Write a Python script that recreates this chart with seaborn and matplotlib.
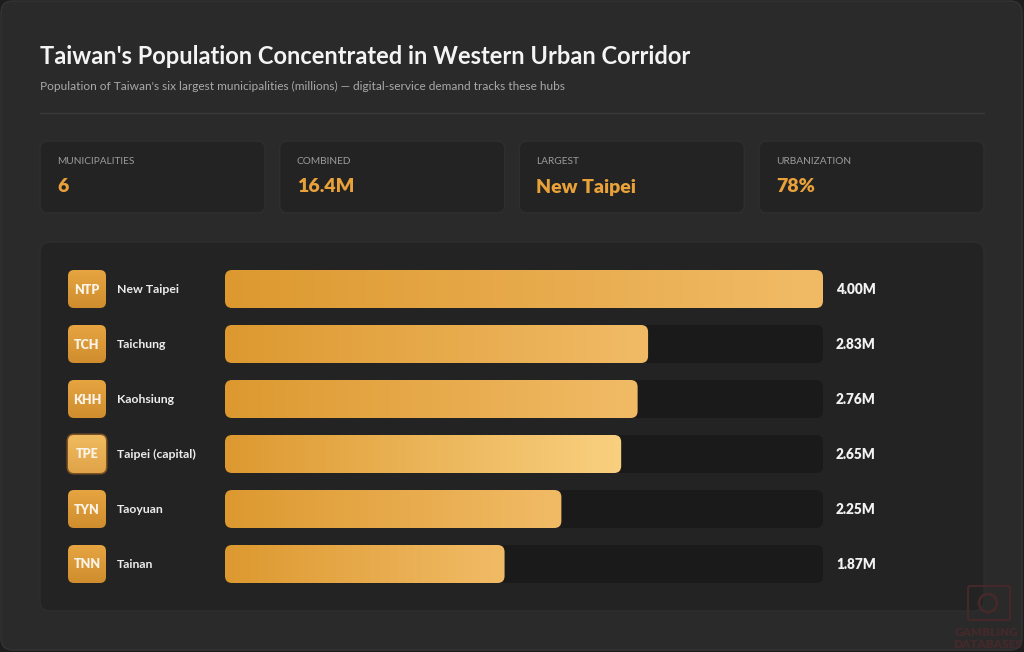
import matplotlib
matplotlib.use('Agg')
import numpy as np
import pandas as pd
import seaborn as sns
import matplotlib.pyplot as plt
from matplotlib.patches import FancyBboxPatch, Circle
from matplotlib.colors import LinearSegmentedColormap

# data
codes = ['NTP', 'TCH', 'KHH', 'TPE', 'TYN', 'TNN']
cities = ['New Taipei', 'Taichung', 'Kaohsiung', 'Taipei (capital)', 'Taoyuan', 'Tainan']
population = [4.00, 2.83, 2.76, 2.65, 2.25, 1.87]
kpi_labels = ['MUNICIPALITIES', 'COMBINED', 'LARGEST', 'URBANIZATION']
kpi_values = ['6', '16.4M', 'New Taipei', '78%']
highlight = 'TPE'
axis_max = 4.0

title = "Taiwan's Population Concentrated in Western Urban Corridor"
subtitle = ("Population of Taiwan's six largest municipalities (millions) \u2014 "
            "digital-service demand tracks these hubs")

sns.set_style('dark')
plt.rcParams['font.family'] = ['Lato', 'DejaVu Sans']

W, H = 1024, 652
fig = plt.figure(figsize=(W / 100, H / 100), dpi=100)
fig.patch.set_facecolor('#1d1d1d')

# background axes in pixel units (y down)
bg = fig.add_axes([0, 0, 1, 1], zorder=0)
bg.set_xlim(0, W)
bg.set_ylim(H, 0)
bg.axis('off')


def rbox(x, y, w, h, r, **kw):
    p = FancyBboxPatch((x, y), w, h, boxstyle=f'round,pad=0,rounding_size={r}', **kw)
    bg.add_patch(p)
    return p


def gradient(patch, x0, x1, y0, y1, c_from, c_to, vertical=False):
    cmap = LinearSegmentedColormap.from_list('g', [c_from, c_to])
    g = np.linspace(0, 1, 256)
    arr = g.reshape(-1, 1) if vertical else g.reshape(1, -1)
    im = bg.imshow(arr, cmap=cmap, extent=[x0, x1, y1, y0], aspect='auto',
                   interpolation='bicubic', zorder=patch.get_zorder() + 0.1)
    im.set_clip_path(patch)


rbox(1, 1, W - 3, H - 3, 12, fc='#2a2a2a', ec='#343434', lw=1, zorder=0)

bg.text(40, 56, title, fontsize=17, weight='bold', color='#f4f4f4', va='center')
bg.text(40, 86, subtitle, fontsize=8.6, color='#a9a9a9', va='center')
bg.plot([40, 984], [113, 113], color='#3a3a3a', lw=1, zorder=1)

# KPI cards
card_w, gap = 225, (944 - 4 * 225) / 3
for i, (lab, val) in enumerate(zip(kpi_labels, kpi_values)):
    x0 = 40 + i * (card_w + gap)
    rbox(x0, 141, card_w, 72, 8, fc='#232323', ec='#2f2f2f', lw=1, zorder=1)
    bg.text(x0 + 17, 162, lab, fontsize=7.3, color='#9c9c9c', va='center')
    bg.text(x0 + 17, 187, val, fontsize=14, weight='heavy', color='#e9a13a', va='center')

# chart panel
rbox(40, 242, 944, 369, 10, fc='#232323', ec='#2e2e2e', lw=1, zorder=1)

# bar axes
left, right, top, bottom = 225, 823, 261.5, 591.5
ax = fig.add_axes([left / W, (H - bottom) / H, (right - left) / W, (bottom - top) / H], zorder=1)
ax.patch.set_alpha(0)
df = pd.DataFrame({'code': codes, 'city': cities, 'population': population})
sns.barplot(data=df, x='population', y='city', orient='h', ax=ax,
            width=38 / 55, color='#e3a03a')
ax.set_xlim(0, axis_max)
ax.set_ylim(len(cities) - 0.5, -0.5)
ax.axis('off')

to_bg = ax.transData + bg.transData.inverted()
for p, code, city, val in zip(ax.patches, codes, cities, population):
    (x0, ya), (x1, yb) = to_bg.transform([[p.get_x(), p.get_y()],
                                          [p.get_x() + p.get_width(), p.get_y() + p.get_height()]])
    y0, y1 = min(ya, yb), max(ya, yb)
    h = y1 - y0
    cy = (y0 + y1) / 2
    tx0 = to_bg.transform([[0, 0]])[0][0]
    tx1 = to_bg.transform([[axis_max, 0]])[0][0]
    rbox(tx0, y0, tx1 - tx0, h, 7, fc='#1a1a1a', ec='none', zorder=2)
    bar = rbox(x0, y0, x1 - x0, h, 7, fc='none', ec='none', zorder=3)
    hi = code == highlight
    gradient(bar, x0, x1, y0, y1, '#dd9930', '#f9d080' if hi else '#f1bb66')
    p.set_visible(False)

    # badge
    badge = rbox(68, cy - 19, 38, 38, 6, fc='none',
                 ec='#7a5224' if hi else 'none', lw=2.2 if hi else 0, zorder=3)
    if hi:
        gradient(badge, 68, 106, cy - 19, cy + 19, '#f0bb60', '#e0a348', vertical=True)
    else:
        gradient(badge, 68, 106, cy - 19, cy + 19, '#e6a541', '#cf8d2e', vertical=True)
    bg.text(87, cy + 0.5, code, fontsize=9, weight='heavy', color='#fbf3e6',
            ha='center', va='center', zorder=5)
    bg.text(117, cy + 0.5, city, fontsize=8.8, weight='bold', color='#ececec',
            va='center', zorder=5)
    bg.text(tx1 + 13, cy + 0.5, f'{val:.2f}M', fontsize=9.8, weight='heavy', color='#f2f2f2',
            va='center', zorder=5)

bg.set_xlim(0, W)
bg.set_ylim(H, 0)

# watermark
wm = '#45292a'
rbox(968, 586, 42, 34, 2, fc='none', ec=wm, lw=1.5, zorder=6)
bg.add_patch(Circle((988, 603), 9, fc='none', ec=wm, lw=2, zorder=6))
bg.text(987, 632, 'GAMBLING', fontsize=8.5, weight='heavy', color=wm,
        ha='center', va='center', zorder=6)
bg.text(987, 644, 'DATABASES', fontsize=8.5, weight='heavy', color=wm,
        ha='center', va='center', zorder=6)

fig.savefig('out.png', dpi=100, facecolor=fig.get_facecolor())
